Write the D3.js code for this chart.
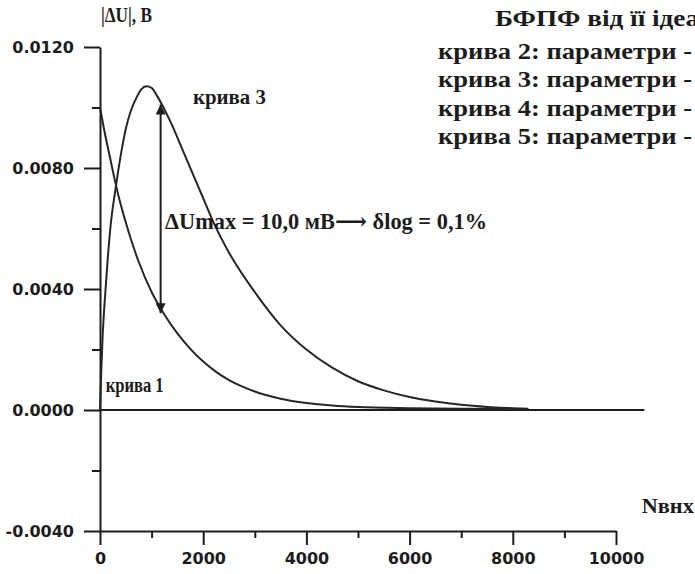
<!DOCTYPE html>
<html>
<head>
<meta charset="utf-8">
<script src="https://cdn.jsdelivr.net/npm/d3@7"></script>
<style>
  body { margin: 0; background: #fff; }
  .serif { font-family: "Liberation Serif", "DejaVu Serif", serif; font-weight: bold; fill: #1c1c1c; }
  .axis text { font-family: "DejaVu Sans", sans-serif; font-weight: bold; font-size: 16px; fill: #1c1c1c; }
  .axis path, .axis line { stroke: #1c1c1c; stroke-width: 2; }
</style>
</head>
<body>
<script>
// canvas area
var margin = {top: 47, right: 79, bottom: 43, left: 100},
    width = 695 - margin.left - margin.right,
    height = 574 - margin.top - margin.bottom;

// curve 1: decaying error (N output, |dU| in volts)
var curve1N = [0, 100, 200, 300, 400, 500, 750, 1000, 1250, 1500, 1750, 2000, 2250, 2500, 2750, 3000, 3500, 4000, 4500, 5000, 6000, 7000, 8300];
var curve1U = [0.0100, 0.0091, 0.0083, 0.0075, 0.0068, 0.0062, 0.0049, 0.0039, 0.00315, 0.00253, 0.00202, 0.0016, 0.00126, 0.00099, 0.00078, 0.00061, 0.00037, 0.00023, 0.00015, 0.0001, 0.00006, 0.00004, 0.00003];

// curve 3: hump with maximum near N = 900
var curve3N = [0, 25, 50, 100, 150, 200, 300, 400, 500, 600, 700, 800, 900, 1000, 1100, 1200, 1400, 1600, 1800, 2000, 2200, 2500, 3000, 3500, 4000, 4500, 5000, 5500, 6000, 6500, 7000, 7500, 8000, 8300];
var curve3U = [0, 0.0013, 0.0024, 0.0038, 0.0050, 0.0060, 0.0073, 0.0084, 0.0093, 0.0099, 0.0103, 0.0106, 0.0107, 0.01065, 0.0104, 0.0101, 0.0094, 0.0086, 0.0078, 0.0070, 0.0062, 0.0052, 0.0039, 0.0028, 0.0020, 0.0014, 0.00095, 0.00065, 0.00043, 0.00028, 0.00017, 0.0001, 0.00006, 0.00004];

// ticks
var yMajorTicks = [-0.004, 0, 0.004, 0.008, 0.012];
var yMinorTicks = [-0.002, 0.002, 0.006, 0.010];
var xMajorTicks = [0, 2000, 4000, 6000, 8000, 10000];
var xMinorTicks = [1000, 3000, 5000, 7000, 9000];
var zeroLineEnd = 10550;

// double arrow between the curves
var arrowN = 1175, arrowTop = 0.0101, arrowBottom = 0.0032;

// caption lines cut by the page edge
var captionLines = ["БФПФ від її ідеа", "крива 2: параметри -", "крива 3: параметри -", "крива 4: параметри -", "крива 5: параметри -"];

var svg = d3.select("body").append("svg")
    .attr("width", 695)
    .attr("height", 574);

var defs = svg.append("defs");
defs.append("marker")
    .attr("id", "head")
    .attr("viewBox", "0 0 10 10")
    .attr("refX", 10).attr("refY", 5)
    .attr("markerWidth", 6).attr("markerHeight", 5)
    .attr("markerUnits", "strokeWidth")
    .attr("orient", "auto-start-reverse")
  .append("path")
    .attr("d", "M0,0 L10,5 L0,10 Z")
    .style("fill", "#1c1c1c");

var g = svg.append("g")
    .attr("transform", "translate(" + margin.left + "," + margin.top + ")");

var x = d3.scaleLinear().domain([0, 10000]).range([0, width]);
var y = d3.scaleLinear().domain([-0.004, 0.012]).range([height, 0]);

// y axis (major with labels, minor without)
g.append("g")
    .attr("class", "axis")
    .call(d3.axisLeft(y).tickValues(yMajorTicks).tickSize(16).tickPadding(10)
      .tickFormat(function(d) { return d3.format(".4f")(d).replace("−", "-"); })
      .tickSizeOuter(0));
g.append("g")
    .attr("class", "axis")
    .call(d3.axisLeft(y).tickValues(yMinorTicks).tickSize(8).tickFormat("").tickSizeOuter(0))
    .select(".domain").remove();

// x axis at the bottom of the plot
g.append("g")
    .attr("class", "axis")
    .attr("transform", "translate(0," + height + ")")
    .call(d3.axisBottom(x).tickValues(xMajorTicks).tickSize(14).tickPadding(8)
      .tickFormat(d3.format("d")).tickSizeOuter(0));
g.append("g")
    .attr("class", "axis")
    .attr("transform", "translate(0," + height + ")")
    .call(d3.axisBottom(x).tickValues(xMinorTicks).tickSize(7).tickFormat("").tickSizeOuter(0))
    .select(".domain").remove();

// zero line
g.append("line")
    .attr("x1", x(0)).attr("x2", x(zeroLineEnd))
    .attr("y1", y(0)).attr("y2", y(0))
    .style("stroke", "#1c1c1c")
    .style("stroke-width", 2.2);

var line = d3.line()
    .x(function(d) { return x(d[0]); })
    .y(function(d) { return y(d[1]); })
    .curve(d3.curveMonotoneX);

[[curve1N, curve1U], [curve3N, curve3U]].forEach(function(c) {
  g.append("path")
      .datum(c[0].map(function(n, i) { return [n, c[1][i]]; }))
      .attr("d", line)
      .style("fill", "none")
      .style("stroke", "#262626")
      .style("stroke-width", 2);
});

// double headed arrow
g.append("line")
    .attr("x1", x(arrowN)).attr("x2", x(arrowN))
    .attr("y1", y(arrowBottom)).attr("y2", y(arrowTop))
    .attr("marker-start", "url(#head)")
    .attr("marker-end", "url(#head)")
    .style("stroke", "#1c1c1c")
    .style("stroke-width", 2);

// annotations
g.append("text").attr("class", "serif")
    .attr("x", x(1800)).attr("y", y(0.0101))
    .style("font-size", "22px")
    .attr("textLength", 73).attr("lengthAdjust", "spacingAndGlyphs")
    .text("крива 3");

g.append("text").attr("class", "serif")
    .attr("x", x(110)).attr("y", y(0.0006))
    .style("font-size", "20px")
    .attr("textLength", 58).attr("lengthAdjust", "spacingAndGlyphs")
    .text("крива 1");

g.append("text").attr("class", "serif")
    .attr("x", x(1260)).attr("y", y(0.0060))
    .style("font-size", "23px")
    .attr("textLength", 322).attr("lengthAdjust", "spacingAndGlyphs")
    .text("ΔUmax = 10,0 мВ⟶ δlog = 0,1%");

g.append("text").attr("class", "serif")
    .attr("x", x(10500)).attr("y", y(-0.0034))
    .style("font-size", "21px")
    .attr("textLength", 52).attr("lengthAdjust", "spacingAndGlyphs")
    .text("Nвнх");

// y axis title
svg.append("text").attr("class", "serif")
    .attr("x", 101).attr("y", 22)
    .style("font-size", "20px")
    .attr("textLength", 51).attr("lengthAdjust", "spacingAndGlyphs")
    .text("|ΔU|, В");

// caption at the top right
svg.selectAll(".caption")
    .data(captionLines)
  .enter().append("text")
    .attr("class", "serif caption")
    .attr("x", function(d, i) { return i == 0 ? 495 : 438; })
    .attr("y", function(d, i) { return 26 + i * 28.5 + (i > 0 ? 4 : 0); })
    .style("font-size", "24px")
    .attr("textLength", function(d, i) { return i == 0 ? 204 : 254; })
    .attr("lengthAdjust", "spacingAndGlyphs")
    .text(function(d) { return d; });
</script>
</body>
</html>
